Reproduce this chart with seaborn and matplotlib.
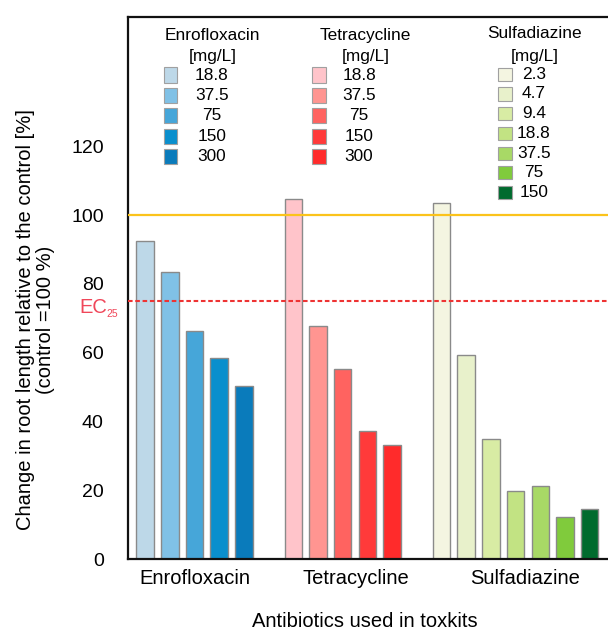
import matplotlib
matplotlib.use("Agg")
import matplotlib.pyplot as plt
import matplotlib.transforms as mtrans
from matplotlib.patches import Rectangle
import seaborn as sns
import pandas as pd

# ---------------- data ----------------
groups = ["Enrofloxacin", "Tetracycline", "Sulfadiazine"]

enro_conc = ["18.8", "37.5", "75", "150", "300"]
enro_vals = [92.5, 83.5, 66.3, 58.4, 50.4]
enro_colors = ["#bdd8e8", "#80c1e6", "#46a6d9", "#0a8fcd", "#0a7bbb"]

tetra_conc = ["18.8", "37.5", "75", "150", "300"]
tetra_vals = [104.6, 67.7, 55.2, 37.3, 33.1]
tetra_colors = ["#ffc4ca", "#ff9591", "#ff6360", "#ff3a3a", "#ff2b2b"]

sulfa_conc = ["2.3", "4.7", "9.4", "18.8", "37.5", "75", "150"]
sulfa_vals = [103.6, 59.3, 34.8, 19.9, 21.3, 12.3, 14.5]
sulfa_colors = ["#f4f5e1", "#e8f1cb", "#d8eca4", "#c2e383", "#a8d966", "#80cb3c", "#006b2e"]

control_level = 100
ec25_level = 75
yticks = [0, 20, 40, 60, 80, 100, 120]

concs = [enro_conc, tetra_conc, sulfa_conc]
vals = [enro_vals, tetra_vals, sulfa_vals]
cols = [enro_colors, tetra_colors, sulfa_colors]

# ---------------- table ----------------
rows = []
palette = {}
slot = 0
for g, cc, vv, kk in zip(groups, concs, vals, cols):
    for c, v, k in zip(cc, vv, kk):
        key = f"{g} {c}"
        rows.append({"pos": slot, "value": v, "key": key})
        palette[key] = k
        slot += 1
    slot += 1  # gap between groups
df = pd.DataFrame(rows)

# ---------------- style ----------------
sns.set_style("white")
plt.rcParams["font.family"] = ["Liberation Sans", "DejaVu Sans"]
plt.rcParams["text.color"] = "black"
plt.rcParams["axes.labelcolor"] = "black"
plt.rcParams["xtick.color"] = "black"
plt.rcParams["ytick.color"] = "black"

W, H = 608, 630
fig = plt.figure(figsize=(W / 100, H / 100), dpi=100)
ax = fig.add_axes([128 / W, 1 - 559 / H, 1 - 128 / W, (559 - 17) / H])

sns.barplot(data=df, x="pos", y="value", hue="key", palette=palette,
            native_scale=True, dodge=False, width=0.71, saturation=1,
            errorbar=None, legend=False, edgecolor="#8a8a8a", linewidth=1,
            ax=ax)

ax.axhline(control_level, color="#fbc31b", lw=1.6, zorder=3)
ax.axhline(ec25_level, color="#ee3333", lw=1.5, ls=(0, (2.2, 1.3)), zorder=3)

ax.set_xlim(-0.69, 18.74)
ax.set_ylim(0, 157.6)
ax.set_yticks(yticks)
ax.set_xticks([2, 8.55, 15.4])
ax.set_xticklabels(groups)
ax.tick_params(axis="y", length=6.5, width=1.5, pad=11, labelsize=14, color="#111111")
ax.tick_params(axis="x", length=0, pad=7, labelsize=14.5)

for s in ["left", "bottom", "top"]:
    ax.spines[s].set_linewidth(1.6)
    ax.spines[s].set_color("#111111")
ax.spines["right"].set_visible(False)

ax.set_xlabel("Antibiotics used in toxkits", fontsize=14.5, va="center")
ax.xaxis.set_label_coords(0.494, (559 - 621.7) / 542)
ax.set_ylabel("Change in root length relative to the control [%]\n(control =100 %)",
              fontsize=14.5, va="center", ha="center", linespacing=1.05)
ax.yaxis.set_label_coords((35.3 - 128) / 480, (559 - 320) / 542)

# EC25 label (x in figure pixels, y in data units)
pix_data = mtrans.blended_transform_factory(mtrans.IdentityTransform(), ax.transData)
ax.text(79, (559 - 313.3) / 3.44, "EC", color="#f0475a", fontsize=14.5,
        ha="left", va="baseline", transform=pix_data)
ax.text(106.5, (559 - 317) / 3.44, "25", color="#f0475a", fontsize=7.5,
        ha="left", va="baseline", transform=pix_data)

# ---------------- legends (manual, figure pixel coords) ----------------
def fx(x):
    return x / W

def fy(y):
    return 1 - y / H

leg_specs = [
    # title_x, square_x, label_x, title_y, sub_y, first_row_y, row_step, sq_h
    (212.5, 170.5, 212, 35.5, 57, 75, 20.4, 15),
    (365.5, 319, 359, 35.5, 57, 75, 20.4, 15),
    (535, 505, 534, 33.5, 57, 74.3, 19.7, 13),
]
for g, cc, kk, spec in zip(groups, concs, cols, leg_specs):
    tx, sx, lx, ty, suby, ry, step, sqh = spec
    fig.text(fx(tx), fy(ty), g, ha="center", va="center", fontsize=12.4)
    fig.text(fx(tx), fy(suby), "[mg/L]", ha="center", va="center", fontsize=12.4)
    for i, (c, k) in enumerate(zip(cc, kk)):
        yc = ry + i * step
        fig.add_artist(Rectangle((fx(sx - 6.6), fy(yc + sqh / 2)), 13.2 / W, sqh / H,
                                 transform=fig.transFigure, facecolor=k,
                                 edgecolor="#a0a0a0", lw=0.8))
        fig.text(fx(lx), fy(yc), c, ha="center", va="center", fontsize=12.4)

fig.savefig("out.png", dpi=100)
